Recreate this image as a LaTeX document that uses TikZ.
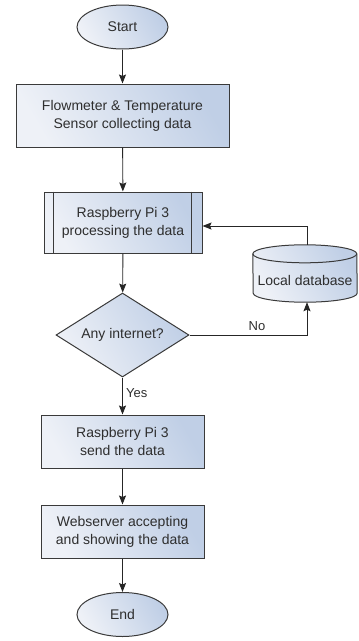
\documentclass[tikz,border=0pt]{standalone}
\usepackage{fontspec}
\setmainfont{Liberation Sans}
\usetikzlibrary{arrows.meta,shapes.geometric}
\definecolor{fillA}{HTML}{EEF1F7}
\definecolor{fillB}{HTML}{C0CFE6}
\definecolor{edge}{HTML}{3A3A3A}
\definecolor{txt}{HTML}{2E2E2E}
\tikzset{
  shadedfill/.style={left color=fillA, right color=fillB, shading angle=120},
  procbox/.style={draw=edge, line width=1pt, shadedfill, rectangle, align=center,
    font=\fontsize{14}{18}\selectfont, text=txt, inner sep=0pt},
  termbox/.style={draw=edge, line width=1pt, shadedfill, ellipse, inner sep=0pt,
    minimum width=91pt, minimum height=44pt, font=\fontsize{14}{18}\selectfont, text=txt},
  decbox/.style={draw=edge, line width=1pt, shadedfill, diamond, aspect=1.58, inner sep=0pt,
    minimum width=133pt, minimum height=84pt, font=\fontsize{14}{18}\selectfont, text=txt},
  flow/.style={draw=black!85, line width=0.9pt, -{Stealth[length=9pt,width=7pt,inset=1.5pt]}},
  lbl/.style={font=\fontsize{13}{15}\selectfont, text=txt, inner sep=0pt}
}
\begin{document}
\begin{tikzpicture}[x=1pt,y=-1pt]
\useasboundingbox (0,0) rectangle (359,641);
% nodes
\node[termbox] (start) at (122.5,27) {Start};
\node[procbox, minimum width=213pt, minimum height=63pt] (sensor) at (122.5,115.5)
  {Flowmeter \& Temperature\\Sensor collecting data};
\node[procbox, minimum width=158pt, minimum height=61pt] (proc) at (123,222.5)
  {Raspberry Pi 3\\processing the data};
\draw[edge, line width=1pt] ([xshift=10pt]proc.north west) -- ([xshift=10pt]proc.south west)
  ([xshift=-11pt]proc.north east) -- ([xshift=-11pt]proc.south east);
\node[decbox] (dec) at (122.5,335) {Any internet?};
\node[procbox, minimum width=163pt, minimum height=53pt] (send) at (122.5,441.5)
  {Raspberry Pi 3\\send the data};
\node[procbox, minimum width=163pt, minimum height=53pt] (web) at (122.5,531.5)
  {Webserver accepting\\and showing the data};
\node[termbox] (end) at (122.5,614.5) {End};
% database cylinder
\node[minimum width=104pt, minimum height=57pt, inner sep=0pt] (db) at (305,273.5) {};
\path[shadedfill, draw=edge, line width=1pt]
  ([yshift=-9pt]db.north west) arc[start angle=180, end angle=0, x radius=52pt, y radius=9pt]
  -- ([yshift=9pt]db.south east) arc[start angle=0, end angle=-180, x radius=52pt, y radius=9pt]
  -- cycle;
\draw[edge, line width=1pt] ([yshift=-9pt]db.north west) arc[start angle=180, end angle=360, x radius=52pt, y radius=9pt];
\node[font=\fontsize{14}{18}\selectfont, text=txt] (dbtext) at (305,280) {Local database};
% connectors
\draw[flow] (start) -- (sensor);
\draw[flow] (sensor) -- (proc);
\draw[flow] (proc) -- (dec);
\draw[flow] (dec) -- (send);
\draw[flow] (send) -- (web);
\draw[flow] (web) -- (end);
\coordinate (dbup) at (307,226);
\coordinate (dbdown) at (307,335);
\draw[flow] (dec.east) -- (dbdown) -- (db.south -| dbdown);
\draw[flow] (db.north -| dbup) -- (dbup) -- (proc.east |- dbup);
% labels
\node[lbl, anchor=west] (yes) at (126,393) {Yes};
\node[lbl] (no) at (257,326) {No};
\end{tikzpicture}
\end{document}
